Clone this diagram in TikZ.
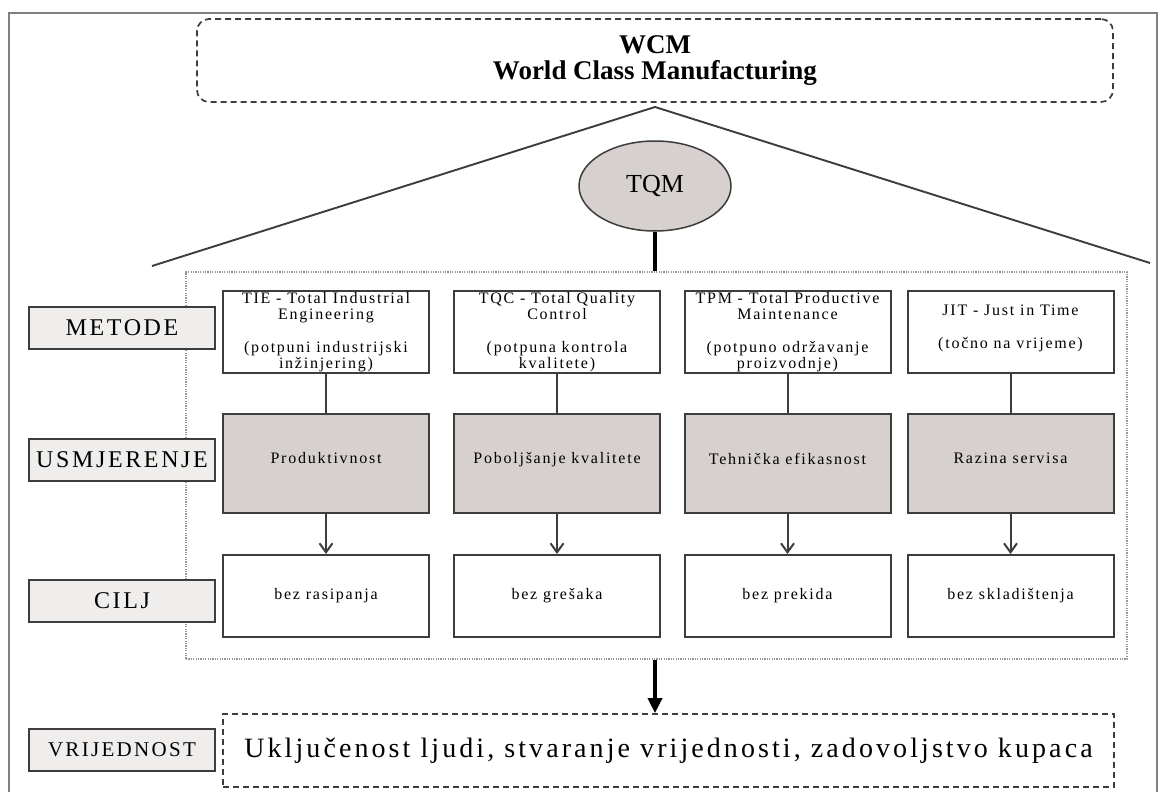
\documentclass[tikz,border=0pt]{standalone}
\usepackage{fontspec}
\setmainfont{Liberation Serif}
\newfontfamily\spaced[LetterSpace=11]{Liberation Serif}
\usetikzlibrary{arrows.meta,shapes.geometric}

\definecolor{framegray}{RGB}{128,128,128}
\definecolor{linegray}{RGB}{62,60,60}
\definecolor{focusgray}{RGB}{214,208,206}
\definecolor{labelgray}{RGB}{240,238,237}
\definecolor{dotgray}{RGB}{150,150,150}

\begin{document}
\begin{tikzpicture}[x=1pt, y=-1pt,
            method/.style={rectangle, draw=linegray, line width=2pt, fill=white, minimum width=206pt, minimum height=82pt, inner sep=0pt, align=center, font=\spaced\fontsize{16}{16.25}\selectfont},
            focus/.style={method, fill=focusgray, minimum height=99pt},
            goal/.style={method},
            label/.style={rectangle, draw=linegray, line width=2pt, fill=labelgray, minimum width=186pt, minimum height=42pt, inner sep=0pt, font=\spaced\fontsize{24}{24}\selectfont},
            dashbox/.style={rectangle, draw=linegray, line width=1.7pt, dash pattern=on 6pt off 4pt},
            link/.style={draw=linegray, line width=2pt},
        ]
            \useasboundingbox (0,0) rectangle (1162,792);
            % outer frame
            \draw[framegray, line width=1.5pt] (9,800) -- (9,13) -- (1157,13) -- (1157,800);

            % roof
            \node[dashbox, rounded corners=12pt, minimum width=916pt, minimum height=83pt, align=center, font=\bfseries\fontsize{27}{26}\selectfont](wcmnode) at (655,60.5) {WCM\\World Class Manufacturing};
            \coordinate (apex) at (655,107);
            \coordinate (roofleft) at (152,266);
            \coordinate (roofright) at (1150,263);
            \draw[linegray, line width=1.9pt] (roofleft) -- (apex) -- (roofright);
            \node[ellipse, draw=linegray, line width=1.5pt, fill=focusgray, minimum width=152pt, minimum height=90pt, font=\fontsize{26}{26}\selectfont](tqmnode) at (655,186) {TQM};

            % house
            \node[rectangle, draw=dotgray, line width=1.2pt, dash pattern=on 1.2pt off 1.2pt, minimum width=941pt, minimum height=387pt, inner sep=0pt](housenode) at (656.5,465.5) {};
            \draw[black, line width=4pt] (tqmnode.south) -- (tqmnode.south |- housenode.north);

            % row labels
            \node[label](metnode) at (122,328) {METODE};
            \node[label](usmnode) at (122,460) {USMJERENJE};
            \node[label](ciljnode) at (122,600.5) {CILJ};
            \node[label, font=\spaced\fontsize{21}{21}\selectfont](vrijnode) at (122,750) {VRIJEDNOST};

            % methods
            \node[method](tienode) at (326,332) {TIE - Total Industrial\\Engineering\\\mbox{}\\(potpuni industrijski\\inžinjering)};
            \node[method](tqcnode) at (557,332) {TQC - Total Quality\\Control\\\mbox{}\\(potpuna kontrola\\kvalitete)};
            \node[method](tpmnode) at (787.5,332) {TPM - Total Productive\\Maintenance\\\mbox{}\\(potpuno održavanje\\proizvodnje)};
            \node[method](jitnode) at (1010.5,332) {\mbox{}\\JIT - Just in Time\\\mbox{}\\(točno na vrijeme)\\\mbox{}};

            % focus
            \node[focus](prodnode) at (326,463.5) {Produktivnost\\[-6pt]\mbox{}};
            \node[focus](kvalnode) at (557,463.5) {Poboljšanje kvalitete\\[-6pt]\mbox{}};
            \node[focus](tehnode) at (787.5,463.5) {Tehnička efikasnost\\[-6pt]\mbox{}};
            \node[focus](servnode) at (1010.5,463.5) {Razina servisa\\[-6pt]\mbox{}};

            % goals
            \node[goal](rasnode) at (326,596) {bez rasipanja};
            \node[goal](gresnode) at (557,596) {bez grešaka};
            \node[goal](preknode) at (787.5,596) {bez prekida};
            \node[goal](sklnode) at (1010.5,596) {bez skladištenja};

            \draw[link] (tienode) -- (prodnode);
            \draw[link] (tqcnode) -- (kvalnode);
            \draw[link] (tpmnode) -- (tehnode);
            \draw[link] (jitnode) -- (servnode);
            \draw[link, -{Straight Barb[length=9pt, width=13pt]}] (prodnode) -- (rasnode);
            \draw[link, -{Straight Barb[length=9pt, width=13pt]}] (kvalnode) -- (gresnode);
            \draw[link, -{Straight Barb[length=9pt, width=13pt]}] (tehnode) -- (preknode);
            \draw[link, -{Straight Barb[length=9pt, width=13pt]}] (servnode) -- (sklnode);

            % value
            \node[dashbox, minimum width=891pt, minimum height=73pt, font=\spaced\fontsize{28}{28}\selectfont](valnode) at (668.5,750.5) {Uključenost ljudi, stvaranje vrijednosti, zadovoljstvo kupaca};
            \draw[black, line width=3.5pt, -{Triangle[length=15pt, width=14pt]}] (tqmnode.south |- housenode.south) -- (tqmnode.south |- valnode.north);
        \end{tikzpicture}
\end{document}
